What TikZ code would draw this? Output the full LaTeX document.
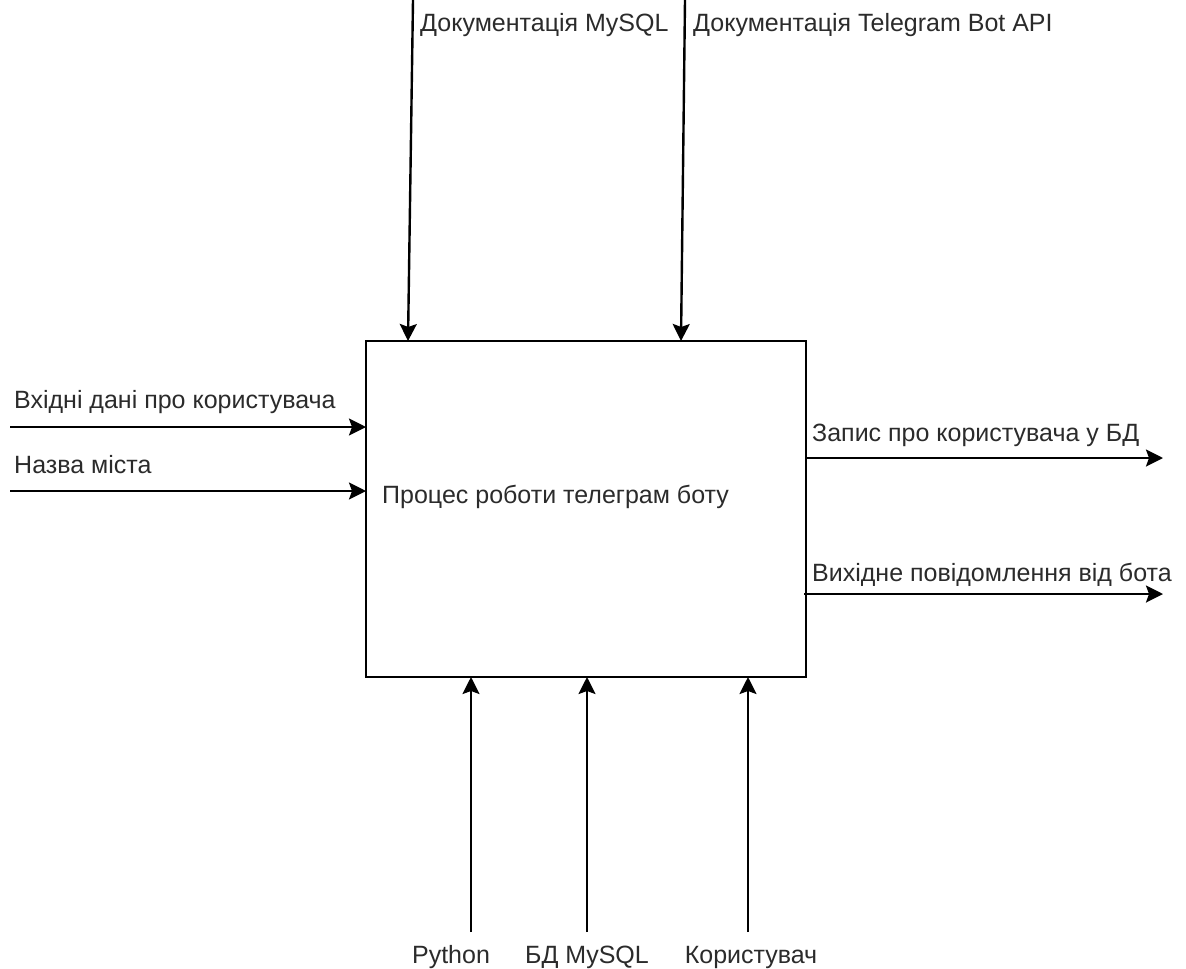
\documentclass[tikz,border=0pt]{standalone}
\usepackage{fontspec}
\setmainfont{Liberation Sans}
\usetikzlibrary{arrows.meta}
\definecolor{txt}{HTML}{2B2B2B}
\tikzset{
  conn/.style={line width=2.4pt, black, -{Stealth[length=17pt,width=17pt,inset=3pt]}},
  lbl/.style={inner sep=0pt, font=\fontsize{25}{29}\selectfont, text=txt, anchor=base west},
  lblc/.style={inner sep=0pt, font=\fontsize{25}{29}\selectfont, text=txt, anchor=base},
  proc/.style={draw, line width=2.4pt, minimum width=440pt, minimum height=336pt, inner sep=0pt}
}
\begin{document}
\begin{tikzpicture}[x=1pt,y=-1pt]
\useasboundingbox (0,0) rectangle (1186,969);
\node[proc] (box) at (586,509) {};
\node[lbl] (ptext) at (382,503) {Процес роботи телеграм боту};
% top (controls)
\coordinate (t1) at (413,0);
\coordinate (t1e) at (408,341);
\coordinate (t2) at (685,0);
\coordinate (t2e) at (681,341);
\draw[conn] (t1) -- (t1e);
\draw[conn] (t2) -- (t2e);
\node[lbl] (lt1) at (420,31) {Документація MySQL};
\node[lbl] (lt2) at (693,31) {Документація Telegram Bot API};
% left (inputs)
\coordinate (i1) at (10,427);
\coordinate (i1e) at (366,427);
\coordinate (i2) at (10,491);
\coordinate (i2e) at (366,491);
\draw[conn] (i1) -- (i1e);
\draw[conn] (i2) -- (i2e);
\node[lbl] (li1) at (14,408) {Вхідні дані про користувача};
\node[lbl] (li2) at (14,473) {Назва міста};
% right (outputs)
\coordinate (o1) at (806,458);
\coordinate (o1e) at (1163,458);
\coordinate (o2) at (804,594);
\coordinate (o2e) at (1163,594);
\draw[conn] (o1) -- (o1e);
\draw[conn] (o2) -- (o2e);
\node[lbl] (lo1) at (812,441) {Запис про користувача у БД};
\node[lbl] (lo2) at (812,581) {Вихідне повідомлення від бота};
% bottom (mechanisms)
\coordinate (m1) at (471,932);
\coordinate (m1e) at (471,677);
\coordinate (m2) at (587,932);
\coordinate (m2e) at (587,677);
\coordinate (m3) at (748,932);
\coordinate (m3e) at (748,677);
\draw[conn] (m1) -- (m1e);
\draw[conn] (m2) -- (m2e);
\draw[conn] (m3) -- (m3e);
\node[lblc] (lm1) at (451,963) {Python};
\node[lblc] (lm2) at (587,963) {БД MySQL};
\node[lblc] (lm3) at (751,963) {Користувач};
\end{tikzpicture}
\end{document}
